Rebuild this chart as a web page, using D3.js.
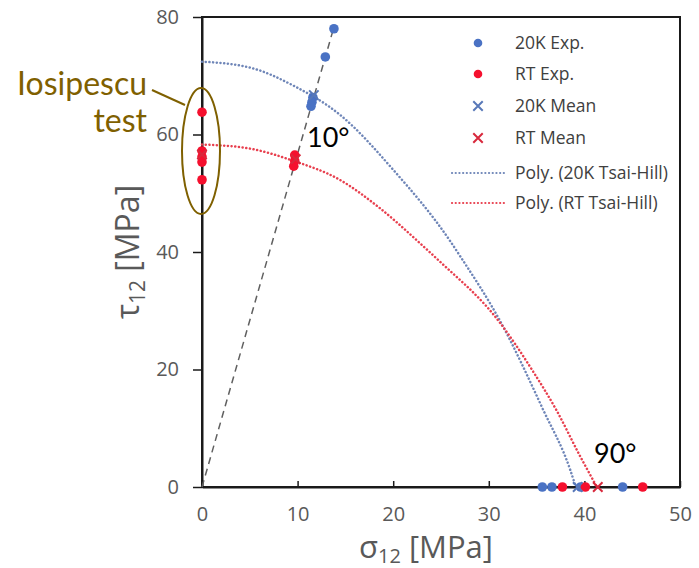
<!DOCTYPE html>
<html>
<head>
<meta charset="utf-8">
<script src="https://cdn.jsdelivr.net/npm/d3@7"></script>
<style>
  body { margin: 0; background: #fff; }
  svg { display: block; }
</style>
</head>
<body>
<svg id="chart" width="699" height="568"></svg>
<script>
// experimental points [sigma12, tau12] in MPa
const exp20K = [[13.8, 78], [12.9, 73.2], [11.6, 66.3], [11.5, 65.5], [11.4, 64.8],
  [35.6, 0], [36.6, 0], [39.6, 0], [44.0, 0]];
const expRT = [[0, 63.8], [0, 57.2], [0, 56.2], [0, 55.3], [0, 52.3],
  [9.7, 56.5], [9.7, 55.5], [9.6, 54.6],
  [37.7, 0], [40.1, 0], [46.1, 0]];
const mean20K = [[11.7, 66.7], [39.3, 0]];
const meanRT = [[0, 56.6], [9.8, 55.8], [41.4, 0]];
// Tsai-Hill trendlines
const fit20K = [[0, 72.4], [5, 71.4], [9.7, 68.2], [14.4, 63.4], [20, 54], [25.9, 42],
  [27, 39.3], [31.2, 28.2], [35.7, 13.1], [38.5, 3], [39.1, 0]];
const fitRT = [[0, 58.3], [5, 57.6], [9.6, 55.5], [14.4, 52.3], [18.5, 47.6], [22.8, 41.5],
  [24.6, 38.8], [31.2, 27.9], [34.5, 20], [37.1, 13], [39.5, 5.4], [41.3, 0]];
const guideLine = [[0, 0], [13.75, 78]];
const xTicks = [0, 10, 20, 30, 40, 50];
const yTicks = [0, 20, 40, 60, 80];

const blue = "#4a72c4", red = "#f5102e";
const blueLine = "#6f86b8", redLine = "#e8404f";
const olive = "#7f6000";

const svg = d3.select("#chart");
const x = d3.scaleLinear().domain([0, 50]).range([202, 680]);
const y = d3.scaleLinear().domain([0, 80]).range([487, 17]);
const font = "'Open Sans', sans-serif";

// plot frame
svg.append("rect")
  .attr("x", x(0)).attr("y", y(80))
  .attr("width", x(50) - x(0)).attr("height", y(0) - y(80))
  .attr("fill", "none").attr("stroke", "#1a1a1a").attr("stroke-width", 2);

const xAxis = svg.append("g")
  .attr("transform", `translate(0,${y(0)})`)
  .call(d3.axisBottom(x).tickValues(xTicks).tickSizeInner(-6).tickSizeOuter(0).tickPadding(20));
const yAxis = svg.append("g")
  .attr("transform", `translate(${x(0)},0)`)
  .call(d3.axisLeft(y).tickValues(yTicks).tickSize(9).tickSizeOuter(0).tickPadding(14));
[xAxis, yAxis].forEach(a => {
  a.select(".domain").attr("stroke", "#1a1a1a").attr("stroke-width", 2);
  a.selectAll(".tick line").attr("stroke", "#1a1a1a").attr("stroke-width", 1.5);
  a.selectAll("text").attr("fill", "#595959").attr("font-family", font).attr("font-size", 20);
});

// axis titles
const xt = svg.append("text")
  .attr("x", 426).attr("y", 558)
  .attr("text-anchor", "middle")
  .attr("fill", "#595959").attr("font-family", font).attr("font-size", 31);
xt.append("tspan").text("σ");
xt.append("tspan").attr("font-size", 20).attr("dy", 5).text("12");
xt.append("tspan").attr("dy", -5).text(" [MPa]");

const yt = svg.append("text")
  .attr("transform", "translate(139,252) rotate(-90)")
  .attr("text-anchor", "middle")
  .attr("fill", "#595959").attr("font-family", font).attr("font-size", 32);
yt.append("tspan").text("τ");
yt.append("tspan").attr("font-size", 21).attr("dy", 6).text("12");
yt.append("tspan").attr("dy", -6).text(" [MPa]");

// 10 degree guide line
svg.append("path")
  .datum(guideLine)
  .attr("d", d3.line().x(d => x(d[0])).y(d => y(d[1])))
  .attr("fill", "none").attr("stroke", "#606060").attr("stroke-width", 1.5)
  .attr("stroke-dasharray", "7,5");

// trendlines
const curve = d3.line().x(d => x(d[0])).y(d => y(d[1])).curve(d3.curveMonotoneX);
svg.append("path").datum(fit20K).attr("d", curve)
  .attr("fill", "none").attr("stroke", blueLine).attr("stroke-width", 2.5)
  .attr("stroke-linecap", "round").attr("stroke-dasharray", "0.1,3.6");
svg.append("path").datum(fitRT).attr("d", curve)
  .attr("fill", "none").attr("stroke", redLine).attr("stroke-width", 2.5)
  .attr("stroke-linecap", "round").attr("stroke-dasharray", "0.1,3.6");

// points
svg.append("g").selectAll("circle").data(exp20K).join("circle")
  .attr("cx", d => x(d[0])).attr("cy", d => y(d[1])).attr("r", 4.8).attr("fill", blue);
svg.append("g").selectAll("circle").data(expRT).join("circle")
  .attr("cx", d => x(d[0])).attr("cy", d => y(d[1])).attr("r", 4.8).attr("fill", red);

const cross = d3.symbol().type(d3.symbolX).size(60);
svg.append("g").selectAll("path").data(mean20K).join("path")
  .attr("transform", d => `translate(${x(d[0])},${y(d[1])})`)
  .attr("d", cross).attr("fill", "none").attr("stroke", "#5878b8").attr("stroke-width", 2);
svg.append("g").selectAll("path").data(meanRT).join("path")
  .attr("transform", d => `translate(${x(d[0])},${y(d[1])})`)
  .attr("d", cross).attr("fill", "none").attr("stroke", "#d8283c").attr("stroke-width", 2);

// legend
const legendItems = [
  { label: "20K Exp.", kind: "dot", color: blue },
  { label: "RT Exp.", kind: "dot", color: red },
  { label: "20K Mean", kind: "x", color: "#5878b8" },
  { label: "RT Mean", kind: "x", color: "#d8283c" },
  { label: "Poly. (20K Tsai-Hill)", kind: "line", color: blueLine },
  { label: "Poly. (RT Tsai-Hill)", kind: "line", color: redLine }
];
const legendY = [43, 74, 106, 138, 173, 203];
const legend = svg.append("g");
const rows = legend.selectAll("g").data(legendItems).join("g")
  .attr("transform", (d, i) => `translate(0,${legendY[i]})`);
rows.filter(d => d.kind === "dot").append("circle")
  .attr("cx", 478).attr("r", 4.3).attr("fill", d => d.color);
rows.filter(d => d.kind === "x").append("path")
  .attr("transform", "translate(478,0)")
  .attr("d", cross).attr("fill", "none").attr("stroke", d => d.color).attr("stroke-width", 2);
rows.filter(d => d.kind === "line").append("line")
  .attr("x1", 452).attr("x2", 505)
  .attr("stroke", d => d.color).attr("stroke-width", 2.2)
  .attr("stroke-linecap", "round").attr("stroke-dasharray", "0.1,3.6");
rows.append("text")
  .attr("x", 515).attr("dy", "0.35em")
  .attr("fill", "#404040").attr("font-family", font).attr("font-size", 17.5)
  .text(d => d.label);

// annotations
svg.append("ellipse")
  .attr("cx", 201).attr("cy", 151).attr("rx", 19).attr("ry", 63)
  .attr("fill", "none").attr("stroke", olive).attr("stroke-width", 2);
svg.append("line")
  .attr("x1", 152).attr("y1", 90).attr("x2", 185).attr("y2", 105)
  .attr("stroke", olive).attr("stroke-width", 2);
const lato = "Lato, 'Open Sans', sans-serif";
svg.append("text").attr("x", 147).attr("y", 95).attr("text-anchor", "end")
  .attr("fill", olive).attr("font-family", lato).attr("font-size", 32).text("Iosipescu");
svg.append("text").attr("x", 147).attr("y", 132).attr("text-anchor", "end")
  .attr("fill", olive).attr("font-family", lato).attr("font-size", 32).text("test");
svg.append("text").attr("x", 307).attr("y", 147)
  .attr("fill", "#000").attr("font-family", lato).attr("font-size", 27).text("10°");
svg.append("text").attr("x", 594).attr("y", 463)
  .attr("fill", "#000").attr("font-family", lato).attr("font-size", 27).text("90°");
</script>
</body>
</html>
